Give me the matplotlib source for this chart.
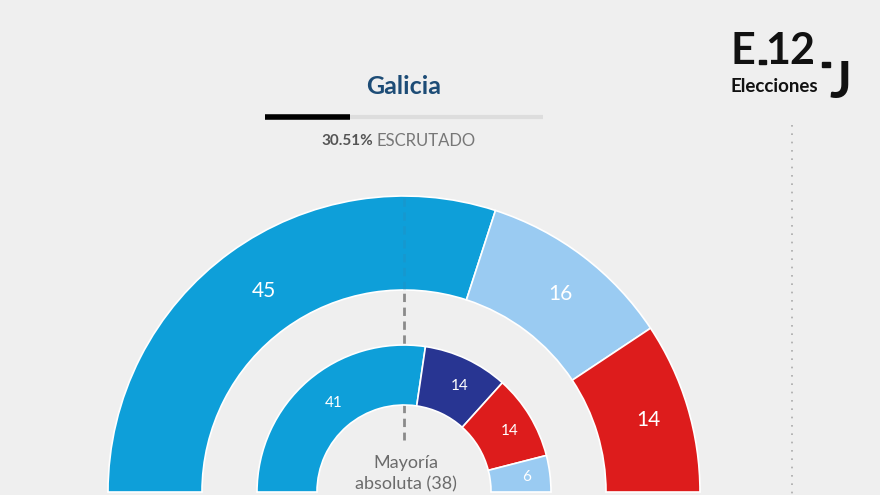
import numpy as np
import matplotlib.pyplot as plt
from matplotlib.patches import Wedge, Rectangle

# seats, outer ring (current) and inner ring (previous)
outer_seats = [45, 16, 14]
outer_colors = ["#0e9fd9", "#9acbf2", "#dd1c1c"]
inner_seats = [41, 14, 14, 6]
inner_colors = ["#0e9fd9", "#283592", "#dd1c1c", "#9acbf2"]

region = "Galicia"
scrutinized = 30.51
majority = 38
total = 75

bg = "#efefef"
cx, cy = 404, 492  # centre of the hemicycle in pixels


def draw_ring(ax, seats, colors, r_out, r_in, fontsize):
    start = 180.0
    for s, c in zip(seats, colors):
        span = 180.0 * s / total
        end = start - span
        # y axis is inverted, so visual angles are negated
        w = Wedge((cx, cy), r_out, -start, -end, width=r_out - r_in,
                  facecolor=c, edgecolor="white", linewidth=1.2)
        ax.add_patch(w)
        mid = np.deg2rad((start + end) / 2)
        rm = (r_out + r_in) / 2
        ax.text(cx + 6 + rm * np.cos(mid), cy - rm * np.sin(mid), str(s),
                color="white", fontsize=fontsize, ha="center", va="center")
        start = end


plt.rcParams['font.family'] = ['Lato', 'DejaVu Sans']
fig = plt.figure(figsize=(8.8, 4.95), dpi=100, facecolor=bg)
ax = fig.add_axes([0, 0, 1, 1])
ax.set_facecolor(bg)
ax.set_xlim(0, 880)
ax.set_ylim(495, 0)
ax.axis("off")

# majority line behind rings
ax.plot([cx, cx], [196, 440], color="#8a8a8a", lw=2, ls=(0, (3, 2)), zorder=1)

draw_ring(ax, outer_seats, outer_colors, 296, 202, 15)
draw_ring(ax, inner_seats, inner_colors, 147, 87, 11)

# faint line over the outer ring
ax.plot([cx, cx], [198, 290], color="#3a7fa8", lw=2, ls=(0, (3, 2)), alpha=0.2, zorder=3)

ax.text(406, 463, "Mayoría", color="#6b6b6b", fontsize=13, ha="center", va="center")
ax.text(406, 484, f"absoluta ({majority})", color="#6b6b6b", fontsize=13, ha="center", va="center")

# title and progress bar
ax.text(404, 87, region, color="#1d4c76", fontsize=18, fontweight="bold", ha="center", va="center")
bar_x0, bar_x1 = 265, 543
ax.plot([bar_x0, bar_x1], [117, 117], color="#dddddd", lw=3, solid_capstyle="butt")
ax.plot([bar_x0, bar_x0 + (bar_x1 - bar_x0) * scrutinized / 100], [117, 117],
        color="black", lw=4, solid_capstyle="butt")
ax.text(373, 141, f"{scrutinized:.2f}%", color="#555555", fontsize=11, fontweight="bold",
        ha="right", va="center")
ax.text(376, 141, "ESCRUTADO", color="#777777", fontsize=12, ha="left", va="center")

# logo
ax.text(730, 64, "E", color="#111111", fontsize=31, fontweight="bold", ha="left", va="baseline")
ax.add_patch(Rectangle((759, 60), 7, 4, color="#111111"))
ax.text(765, 64, "12", color="#111111", fontsize=31, fontweight="bold", ha="left", va="baseline")
ax.add_patch(Rectangle((822, 62), 8, 5, color="#111111"))
ax.text(829, 98, "J", color="#111111", fontsize=37, fontweight="bold", ha="left", va="baseline")
ax.text(731, 86, "Elecciones", color="#111111", fontsize=13.5, fontweight="bold", ha="left", va="center")

# dotted separator
ax.plot([792, 792], [125, 495], color="#aaaaaa", lw=1.2, ls=(0, (1, 4)))

fig.savefig("out.png", dpi=100, facecolor=bg)
